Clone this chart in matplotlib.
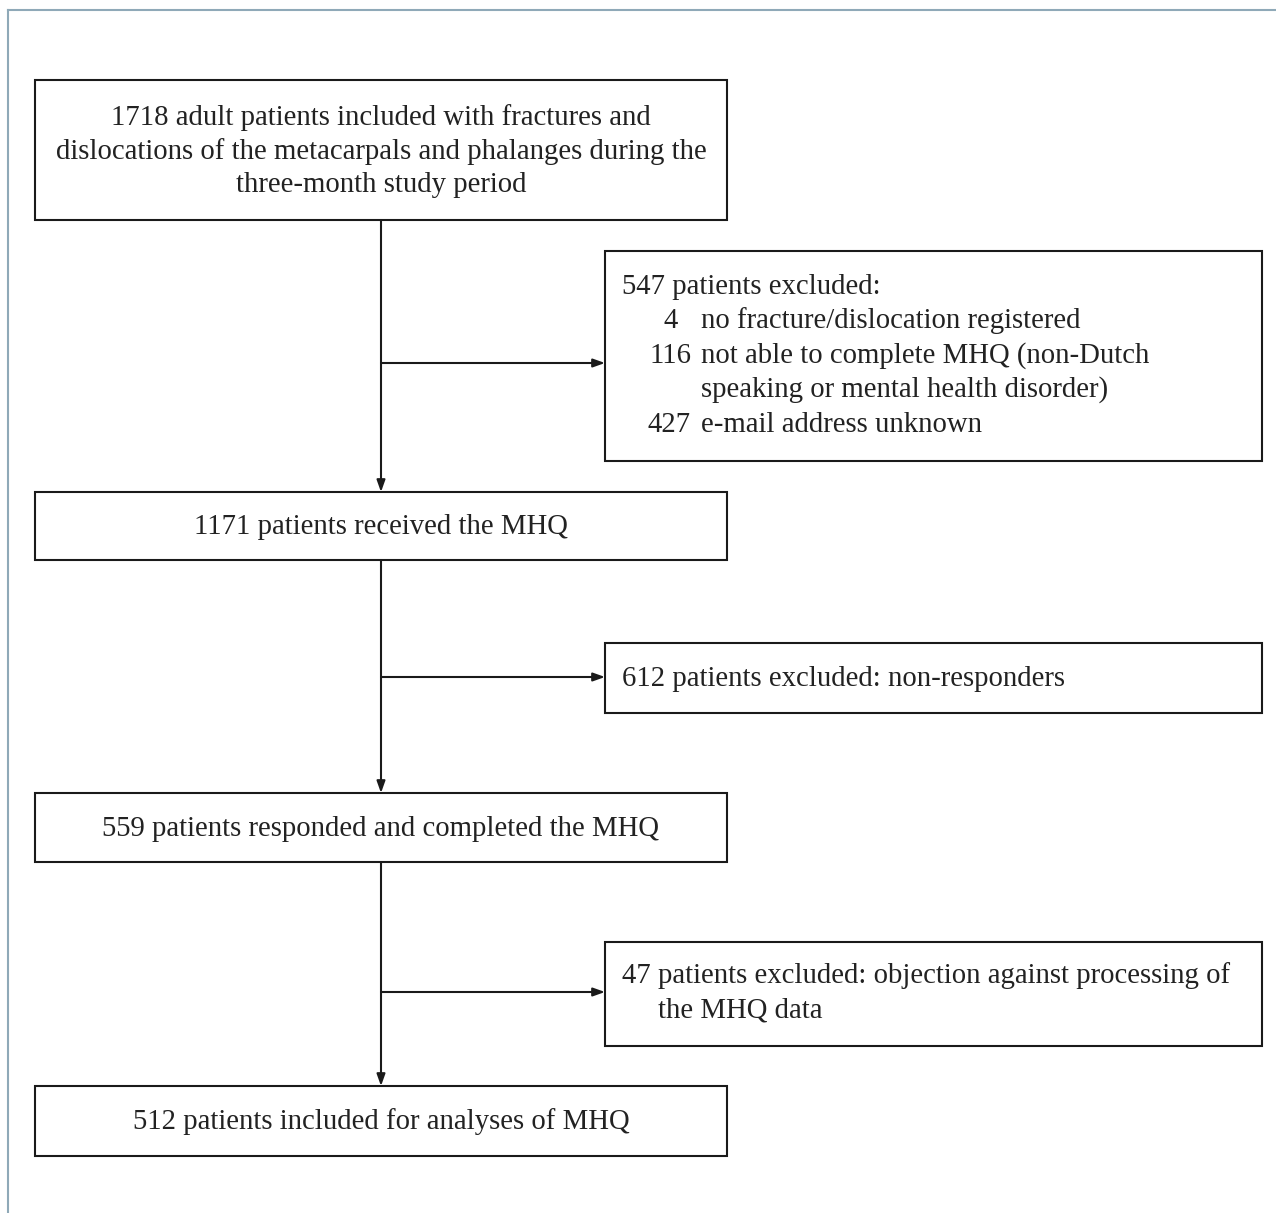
import matplotlib
matplotlib.use("Agg")
import matplotlib.pyplot as plt
from matplotlib.patches import Rectangle

# ---- data (text content) ----
main_boxes = [
    "1718 adult patients included with fractures and\ndislocations of the metacarpals and phalanges during the\nthree-month study period",
    "1171 patients received the MHQ",
    "559 patients responded and completed the MHQ",
    "512 patients included for analyses of MHQ",
]
excl1_head = "547 patients excluded:"
excl1_nums = ["4", "116", "", "427"]
excl1_items = ["no fracture/dislocation registered",
               "not able to complete MHQ (non-Dutch",
               "speaking or mental health disorder)",
               "e-mail address unknown"]
excl2_text = "612 patients excluded: non-responders"
excl3_lines = ["47 patients excluded: objection against processing of",
               "the MHQ data"]

# ---- layout (pixel coordinates) ----
W, H = 1276, 1213
fig = plt.figure(figsize=(W / 100, H / 100), dpi=100)
ax = fig.add_axes([0, 0, 1, 1])
ax.set_xlim(0, W)
ax.set_ylim(H, 0)
ax.axis("off")

FONT = "Liberation Serif"
FS = 20.7
TC = "#222222"
LC = "#1a1a1a"

# frame
ax.plot([8, 8], [10, H], color="#8fa9b8", lw=1.5)
ax.plot([8, W], [10, 10], color="#8fa9b8", lw=1.5)

main_pos = [(35, 80, 692, 140), (35, 492, 692, 68), (35, 793, 692, 69), (35, 1086, 692, 70)]
for (x, y, w, h), txt in zip(main_pos, main_boxes):
    ax.add_patch(Rectangle((x, y), w, h, fill=False, ec=LC, lw=1.5))
    ax.text(x + w / 2, y + h / 2 + 1, txt, ha="center", va="center", fontsize=FS,
            family=FONT, color=TC, linespacing=1.36)

excl_pos = [(605, 251, 657, 210), (605, 643, 657, 70), (605, 942, 657, 104)]
for (x, y, w, h) in excl_pos:
    ax.add_patch(Rectangle((x, y), w, h, fill=False, ec=LC, lw=1.5))

# excl1 text
ax.text(622, 287, excl1_head, ha="left", va="center", fontsize=FS, family=FONT, color=TC)
ys = [321, 356, 390, 425]
num_right = [678, 691, 691, 691]
for n, item, yy, nr in zip(excl1_nums, excl1_items, ys, num_right):
    if n:
        ax.text(nr, yy, n, ha="right", va="center", fontsize=FS, family=FONT, color=TC)
    ax.text(701, yy, item, ha="left", va="center", fontsize=FS, family=FONT, color=TC)

ax.text(622, 679, excl2_text, ha="left", va="center", fontsize=FS, family=FONT, color=TC)
ax.text(622, 976, excl3_lines[0], ha="left", va="center", fontsize=FS, family=FONT, color=TC)
ax.text(658, 1011, excl3_lines[1], ha="left", va="center", fontsize=FS, family=FONT, color=TC)

# arrows
cx = 381
arrow_kw = dict(arrowstyle="-|>,head_length=0.7,head_width=0.25", color=LC, lw=1.5,
                shrinkA=0, shrinkB=0)
vert = [(220, 492), (560, 793), (862, 1086)]
for y0, y1 in vert:
    ax.annotate("", xy=(cx, y1), xytext=(cx, y0), arrowprops=arrow_kw)
for yy in [363, 677, 992]:
    ax.annotate("", xy=(605, yy), xytext=(cx, yy), arrowprops=arrow_kw)

fig.savefig("out.png", dpi=100, facecolor="white")
